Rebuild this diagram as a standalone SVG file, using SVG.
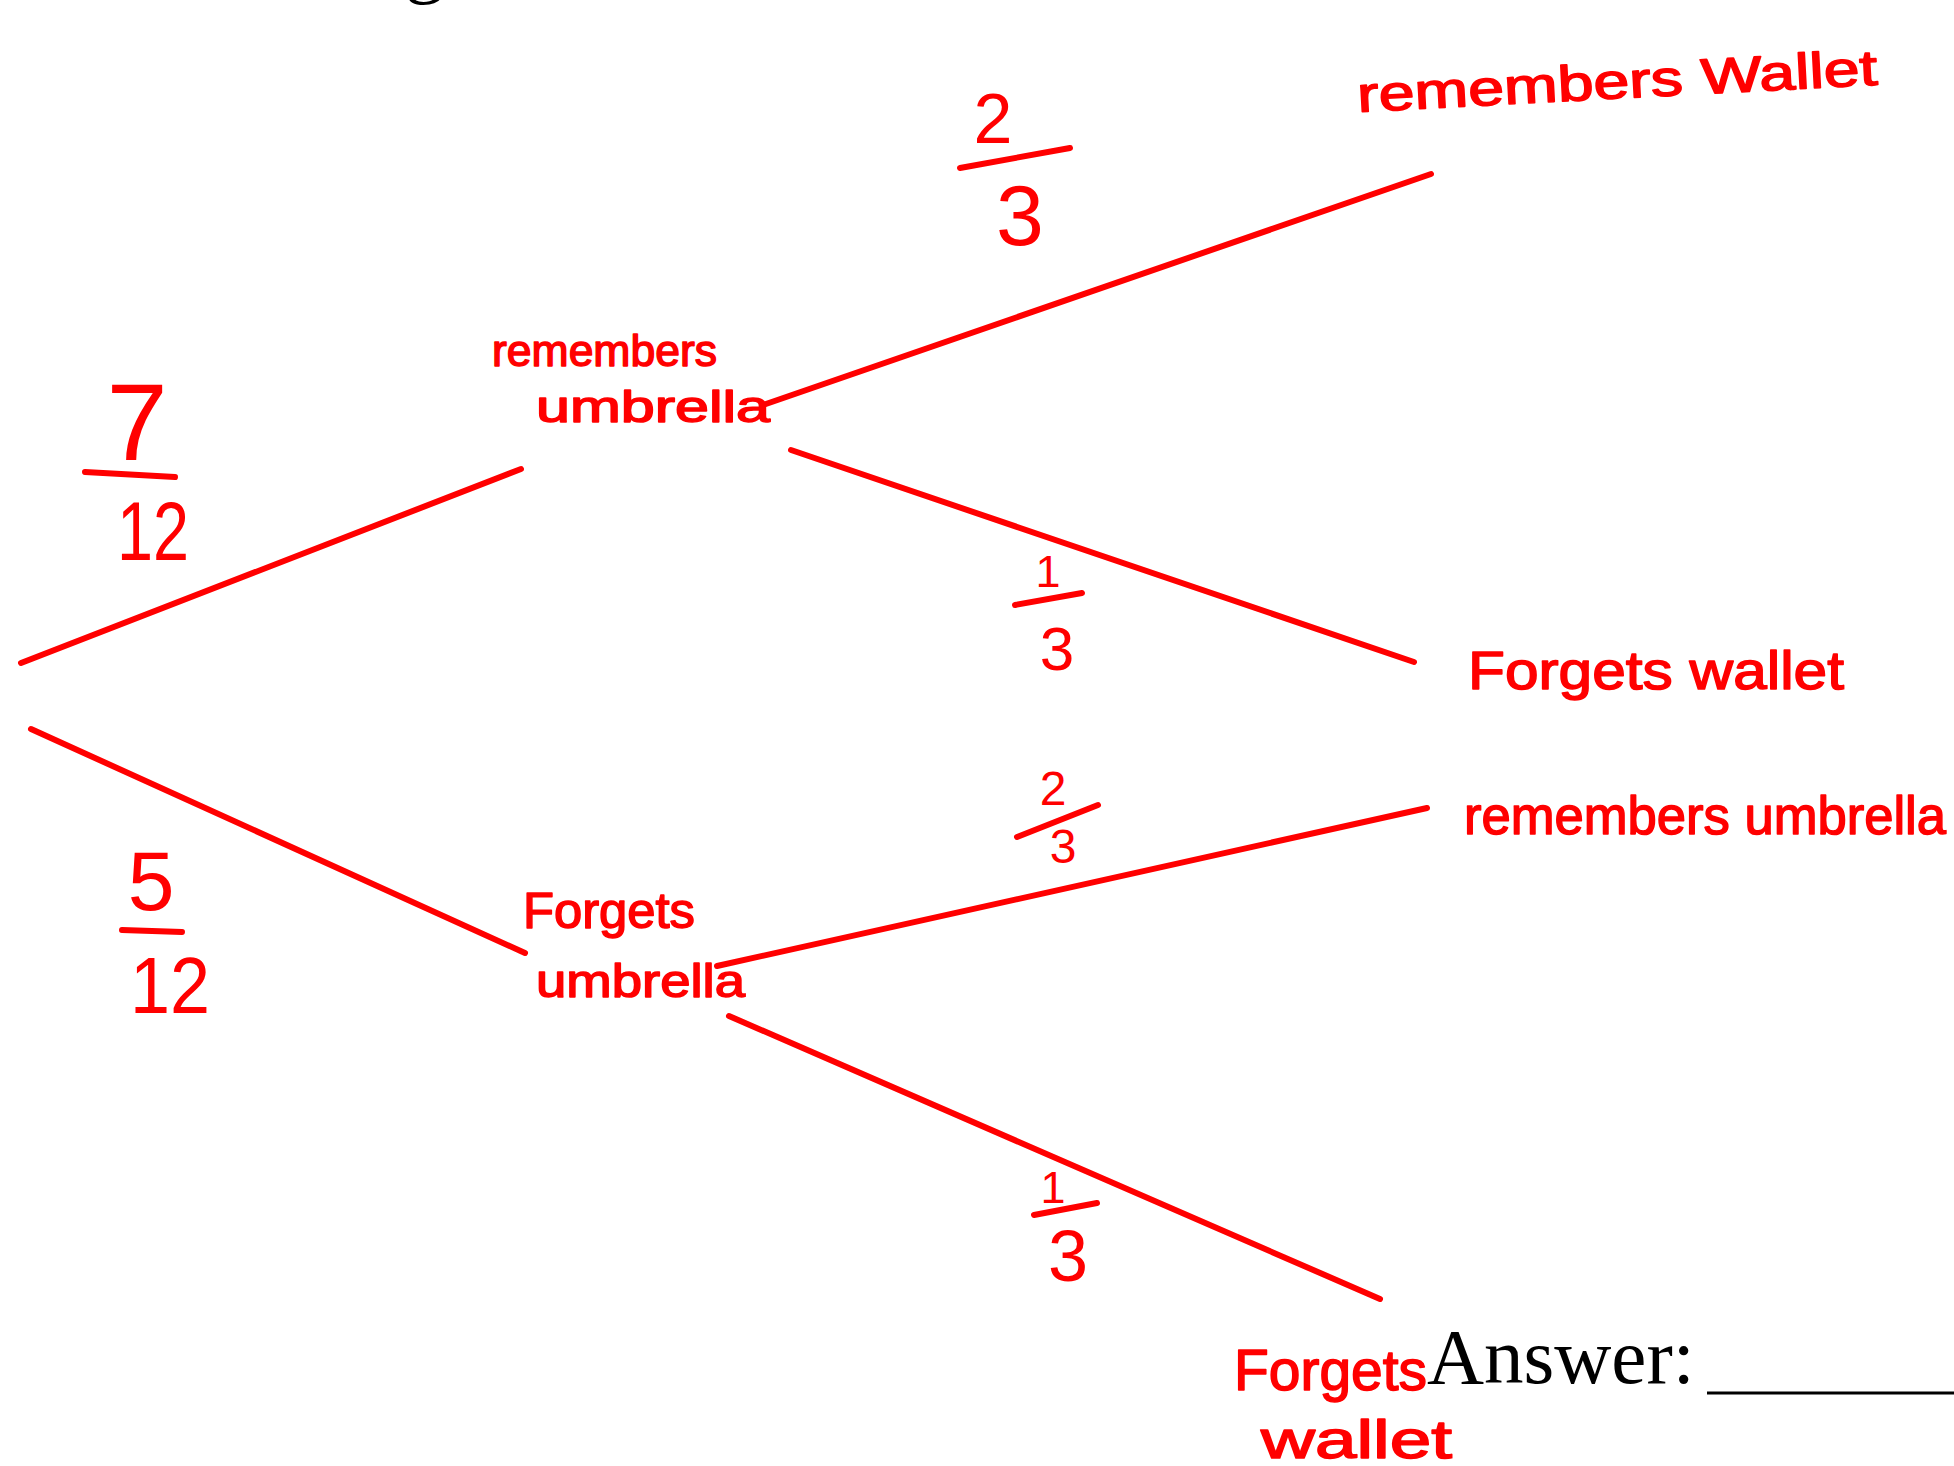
<svg xmlns="http://www.w3.org/2000/svg" width="1954" height="1466" viewBox="0 0 1954 1466">
<style>
.hw{font-family:"Liberation Sans","DejaVu Sans",sans-serif;fill:#f00;stroke:#f00;stroke-width:1.5;stroke-linejoin:round;}
.num{font-family:"Liberation Sans","DejaVu Sans",sans-serif;fill:#f00;text-anchor:middle;}
.edge{stroke:#f00;stroke-width:6;stroke-linecap:round;fill:none;}
.bar{stroke:#f00;stroke-width:6;stroke-linecap:round;fill:none;}
.print{font-family:"Liberation Serif","DejaVu Serif",serif;fill:#000;}
</style>
<rect width="1954" height="1466" fill="#fff"/>
<text class="print" x="405" y="-12" font-size="79">g</text>
<g id="connectors">
<line class="edge" x1="21" y1="663" x2="521" y2="469"/>
<line class="edge" x1="31" y1="729" x2="525" y2="953"/>
<line class="edge" x1="763" y1="405" x2="1431" y2="174"/>
<line class="edge" x1="791" y1="450" x2="1414" y2="662"/>
<line class="edge" x1="717" y1="966" x2="1427" y2="808"/>
<line class="edge" x1="729" y1="1016" x2="1380" y2="1299"/>
</g>
<g id="edge-labels">
<g id="p-remembers-umbrella">
<text class="num" x="137" y="460" font-size="110">7</text>
<line class="bar" x1="85" y1="472" x2="175" y2="477"/>
<text class="num" x="153" y="560" font-size="84" textLength="72" lengthAdjust="spacingAndGlyphs">12</text>
</g>
<g id="p-forgets-umbrella">
<text class="num" x="151" y="910" font-size="84">5</text>
<line class="bar" x1="122" y1="930" x2="182" y2="932"/>
<text class="num" x="170" y="1013" font-size="80" textLength="80" lengthAdjust="spacingAndGlyphs">12</text>
</g>
<g id="p-rw1">
<text class="num" x="993" y="143" font-size="70">2</text>
<line class="bar" x1="960" y1="168" x2="1070" y2="148"/>
<text class="num" x="1020" y="245" font-size="86">3</text>
</g>
<g id="p-fw1">
<text class="num" x="1048" y="587" font-size="45">1</text>
<line class="bar" x1="1015" y1="605" x2="1082" y2="593"/>
<text class="num" x="1057" y="670" font-size="62">3</text>
</g>
<g id="p-ru2">
<text class="num" x="1053" y="805" font-size="48">2</text>
<line class="bar" x1="1017" y1="837" x2="1098" y2="805"/>
<text class="num" x="1063" y="863" font-size="48">3</text>
</g>
<g id="p-fw2">
<text class="num" x="1053" y="1203" font-size="45">1</text>
<line class="bar" x1="1034" y1="1215" x2="1097" y2="1203"/>
<text class="num" x="1068" y="1281" font-size="72">3</text>
</g>
</g>
<g id="node-remembers-umbrella">
<text class="hw" x="492" y="366" font-size="44" textLength="225" lengthAdjust="spacingAndGlyphs">remembers</text>
<text class="hw" x="536" y="422" font-size="44" textLength="234" lengthAdjust="spacingAndGlyphs">umbrella</text>
</g>
<g id="node-forgets-umbrella">
<text class="hw" x="523" y="928" font-size="50" textLength="172" lengthAdjust="spacingAndGlyphs">Forgets</text>
<text class="hw" x="536" y="997" font-size="46" textLength="209" lengthAdjust="spacingAndGlyphs">umbrella</text>
</g>
<g id="leaf-remembers-wallet">
<text class="hw" x="1358" y="112" font-size="50" textLength="521" lengthAdjust="spacingAndGlyphs" transform="rotate(-3 1358 112)">remembers Wallet</text>
</g>
<g id="leaf-forgets-wallet-1">
<text class="hw" x="1468" y="689" font-size="54" textLength="376" lengthAdjust="spacingAndGlyphs">Forgets wallet</text>
</g>
<g id="leaf-remembers-umbrella">
<text class="hw" x="1464" y="834" font-size="54" textLength="482" lengthAdjust="spacingAndGlyphs">remembers umbrella</text>
</g>
<g id="leaf-forgets-wallet-2">
<text class="hw" x="1234" y="1390" font-size="58" textLength="193" lengthAdjust="spacingAndGlyphs">Forgets</text>
<text class="hw" x="1261" y="1458" font-size="54" textLength="191" lengthAdjust="spacingAndGlyphs">wallet</text>
</g>
<g id="answer">
<text class="print" x="1427" y="1383" font-size="79">Answer:</text>
<line x1="1707" y1="1393" x2="1954" y2="1393" stroke="#000" stroke-width="3"/>
</g>
</svg>
